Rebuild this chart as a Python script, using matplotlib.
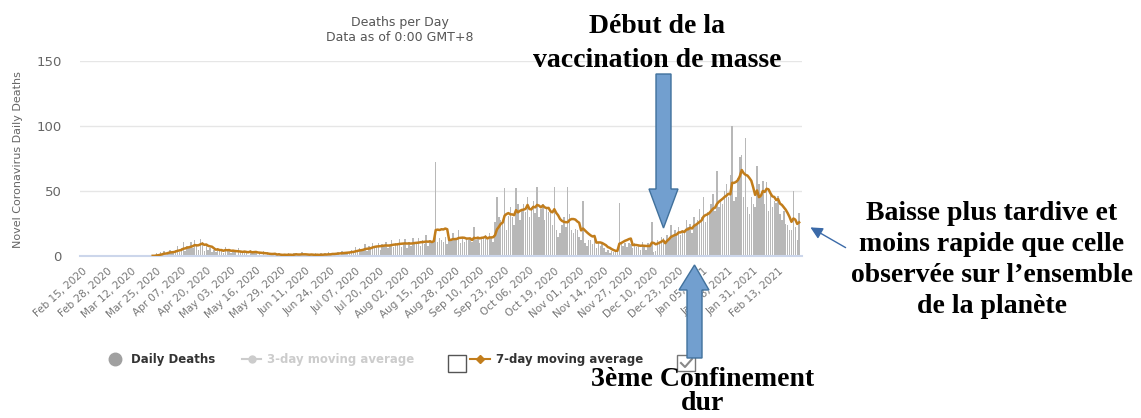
import pandas as pd
import matplotlib
matplotlib.use("Agg")
import matplotlib.pyplot as plt
from matplotlib.patches import Polygon, Rectangle, FancyArrowPatch
from matplotlib.lines import Line2D

W, H = 1141, 418

# daily deaths, one row per week, starting Sat Feb 15, 2020
start_date = "2020-02-15"
daily_deaths = [
    0, 0, 0, 0, 0, 0, 0,
    0, 0, 0, 0, 0, 0, 0,
    0, 0, 0, 0, 0, 0, 0,
    0, 0, 0, 0, 0, 0, 0,
    0, 0, 0, 0, 0, 0, 0,
    0, 0, 1, 0, 2, 1, 3,
    2, 4, 1, 3, 5, 2, 4,
    5, 8, 3, 6, 11, 4, 8,
    7, 11, 6, 12, 9, 5, 13,
    11, 4, 8, 5, 6, 3, 5,
    3, 6, 4, 5, 2, 7, 4,
    4, 2, 5, 3, 1, 6, 3,
    2, 4, 3, 1, 5, 2, 4,
    3, 1, 2, 0, 4, 1, 3,
    1, 0, 2, 1, 0, 2, 1,
    0, 1, 1, 2, 0, 1, 2,
    2, 0, 1, 3, 0, 1, 1,
    1, 1, 0, 2, 1, 0, 2,
    1, 2, 0, 3, 1, 2, 2,
    2, 3, 1, 4, 2, 3, 3,
    3, 5, 2, 7, 4, 6, 4,
    5, 9, 4, 8, 6, 10, 7,
    7, 10, 5, 9, 8, 11, 6,
    8, 12, 7, 10, 9, 13, 7,
    9, 13, 6, 11, 8, 14, 9,
    10, 14, 8, 12, 9, 16, 8,
    12, 10, 13, 72, 11, 14, 12,
    11, 15, 9, 14, 12, 18, 12,
    12, 20, 10, 15, 11, 14, 12,
    13, 11, 22, 12, 15, 10, 15,
    14, 16, 12, 18, 15, 11, 26,
    45, 30, 28, 25, 52, 20, 31,
    38, 30, 24, 52, 40, 28, 36,
    40, 34, 45, 30, 38, 42, 33,
    53, 30, 36, 40, 28, 38, 34,
    35, 24, 53, 20, 15, 18, 24,
    30, 22, 53, 32, 20, 18, 21,
    20, 15, 12, 42, 10, 8, 12,
    12, 9, 15, 6, 11, 8, 9,
    6, 3, 5, 2, 4, 3, 5,
    6, 41, 9, 8, 10, 7, 10,
    9, 6, 10, 7, 8, 5, 11,
    8, 5, 10, 7, 26, 3, 4,
    12, 10, 15, 14, 11, 16, 13,
    24, 15, 20, 17, 22, 16, 19,
    20, 28, 22, 25, 18, 30, 25,
    28, 36, 30, 45, 26, 34, 32,
    40, 48, 35, 65, 38, 42, 40,
    50, 55, 45, 62, 100, 42, 45,
    60, 76, 78, 45, 91, 38, 32,
    45, 40, 38, 69, 55, 45, 58,
    40, 57, 35, 48, 38, 42, 41,
    46, 32, 28, 35, 25, 24, 20,
    20, 50, 22, 12, 33,
]

tick_labels = [
    "Feb 15, 2020", "Feb 28, 2020", "Mar 12, 2020", "Mar 25, 2020",
    "Apr 07, 2020", "Apr 20, 2020", "May 03, 2020", "May 16, 2020",
    "May 29, 2020", "Jun 11, 2020", "Jun 24, 2020", "Jul 07, 2020",
    "Jul 20, 2020", "Aug 02, 2020", "Aug 15, 2020", "Aug 28, 2020",
    "Sep 10, 2020", "Sep 23, 2020", "Oct 06, 2020", "Oct 19, 2020",
    "Nov 01, 2020", "Nov 14, 2020", "Nov 27, 2020", "Dec 10, 2020",
    "Dec 23, 2020", "Jan 05, 2021", "Jan 18, 2021", "Jan 31, 2021",
    "Feb 13, 2021",
]
y_ticks = [0, 50, 100, 150]

dates = pd.date_range(start_date, periods=len(daily_deaths), freq="D")
s = pd.Series(daily_deaths, index=dates)
avg7 = s.rolling(7, min_periods=1).mean()
avg7[s.cumsum() == 0] = float("nan")


def fx(x):
    return x / W


def fy(y):
    return 1 - y / H


fig = plt.figure(figsize=(W / 100, H / 100), dpi=100)
ax = fig.add_axes([fx(80), fy(256), 722 / W, 195 / H])

ax.bar(dates, s.values, width=0.75, color="#b8b8b8", zorder=2)
ax.plot(dates, avg7.values, color="#c27d1b", lw=1.8, zorder=3)

ax.set_ylim(0, 150)
ax.set_yticks(y_ticks)
ax.set_xlim(dates[0] - pd.Timedelta(days=1), dates[-1] + pd.Timedelta(days=1.5))
ax.set_xticks(pd.to_datetime(tick_labels, format="%b %d, %Y"))
ax.set_xticklabels(tick_labels, rotation=42, ha="right", rotation_mode="anchor",
                   fontsize=7.5, color="#777777")
ax.tick_params(axis="x", length=0, pad=7)
ax.tick_params(axis="y", length=0, pad=13, labelsize=9.5, labelcolor="#666666")
ax.grid(axis="y", color="#e6e6e6", lw=1)
ax.set_axisbelow(True)
for side in ["top", "right", "left"]:
    ax.spines[side].set_visible(False)
ax.spines["bottom"].set_color("#ccd6eb")
ax.spines["bottom"].set_linewidth(1.5)

# title and y label
fig.text(fx(400), fy(26), "Deaths per Day", ha="center", va="baseline",
         fontsize=9, color="#555555")
fig.text(fx(400), fy(41), "Data as of 0:00 GMT+8", ha="center", va="baseline",
         fontsize=9, color="#555555")
fig.text(fx(18), fy(160), "Novel Coronavirus Daily Deaths", rotation=90,
         ha="center", va="center", fontsize=8, color="#666666")

# legend
fig.add_artist(Line2D([fx(115)], [fy(359)], marker="o", ms=9, color="#a0a0a0",
                      transform=fig.transFigure))
fig.text(fx(131), fy(359), "Daily Deaths", va="center", fontsize=8.5,
         fontweight="bold", color="#333333")
fig.add_artist(Line2D([fx(242), fx(261)], [fy(359), fy(359)], color="#cccccc", lw=1.5,
                      transform=fig.transFigure))
fig.add_artist(Line2D([fx(251.5)], [fy(359)], marker="o", ms=5, color="#cccccc",
                      transform=fig.transFigure))
fig.text(fx(267), fy(359), "3-day moving average", va="center", fontsize=8.5,
         fontweight="bold", color="#cccccc")
fig.add_artist(Rectangle((fx(448), fy(372)), 18 / W, 17 / H, facecolor="white",
                         edgecolor="#555555", lw=1, transform=fig.transFigure))
fig.add_artist(Line2D([fx(470), fx(490)], [fy(359), fy(359)], color="#c27d1b", lw=1.5,
                      transform=fig.transFigure))
fig.add_artist(Line2D([fx(480)], [fy(359)], marker="D", ms=4, color="#c27d1b",
                      transform=fig.transFigure))
fig.text(fx(496), fy(359), "7-day moving average", va="center", fontsize=8.5,
         fontweight="bold", color="#333333")
fig.add_artist(Rectangle((fx(677), fy(371)), 18 / W, 16 / H, facecolor="white",
                         edgecolor="#777777", lw=1, transform=fig.transFigure))
fig.add_artist(Line2D([fx(681), fx(685), fx(692)], [fy(363), fy(367), fy(359)],
                      color="#888888", lw=1.5, transform=fig.transFigure))

# block arrows
arrow_fc, arrow_ec = "#729fcf", "#41719c"
down_pts = [(656, 74), (671, 74), (671, 189), (678, 189), (663.5, 228), (649, 189), (656, 189)]
up_pts = [(687, 358), (702, 358), (702, 290), (709, 290), (694.5, 265), (679, 290), (687, 290)]
for pts in (down_pts, up_pts):
    fig.add_artist(Polygon([(fx(x), fy(y)) for x, y in pts], closed=True,
                           facecolor=arrow_fc, edgecolor=arrow_ec, lw=1,
                           transform=fig.transFigure, zorder=10))

fig.add_artist(FancyArrowPatch((fx(848), fy(249)), (fx(808), fy(226)),
                               arrowstyle="-|>", mutation_scale=18, color="#3b6aa8",
                               lw=1, transform=fig.transFigure, zorder=10))

# annotations
note = dict(family="Liberation Serif", fontweight="bold", fontsize=20,
            color="black", ha="center", va="baseline", zorder=11)
fig.text(fx(657), fy(33), "Début de la", **note)
fig.text(fx(657), fy(67), "vaccination de masse", **note)
fig.text(fx(703), fy(386), "3ème Confinement", **note)
fig.text(fx(703), fy(410), "dur", **note)
right_lines = ["Baisse plus tardive et", "moins rapide que celle",
               "observée sur l’ensemble", "de la planète"]
for i, line in enumerate(right_lines):
    fig.text(fx(992), fy(220 + 31 * i), line, **note)

fig.savefig("out.png", dpi=100, facecolor="white")
